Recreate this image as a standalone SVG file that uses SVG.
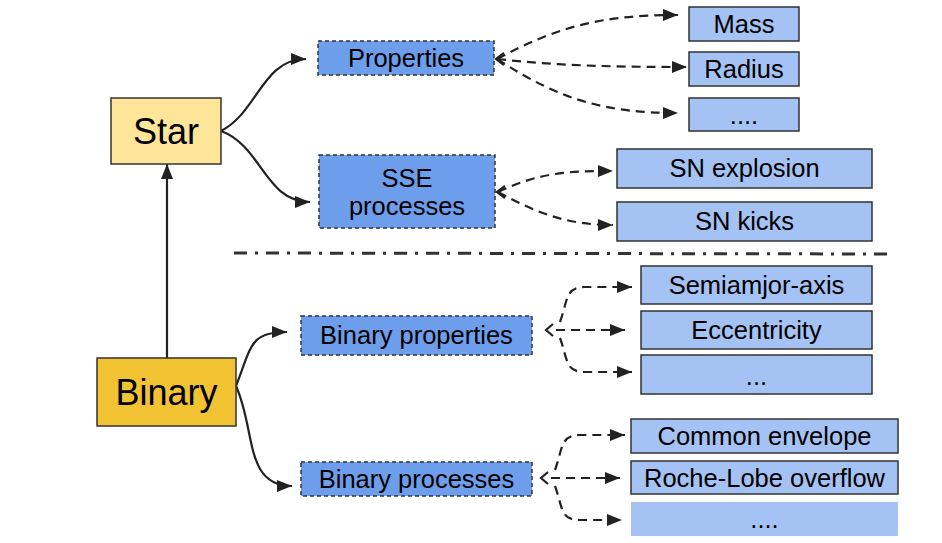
<svg xmlns="http://www.w3.org/2000/svg" width="942" height="543" viewBox="0 0 942 543">
<style>
text{font-family:"Liberation Sans",Arial,sans-serif;fill:#000;text-anchor:middle}
.big{font-size:36px}
.t{font-size:25.5px}
.l2{fill:#6d9eeb;stroke:#333;stroke-width:1.5;stroke-dasharray:4 3}
.l3{fill:#a4c2f4;stroke:#333;stroke-width:1.5}
.l3n{fill:#a4c2f4}
.c{fill:none;stroke:#222;stroke-width:2.2}
.d{fill:none;stroke:#222;stroke-width:2.2;stroke-dasharray:9 6}
.chev{fill:none;stroke:#222;stroke-width:2.2}
</style>
<defs>
<marker id="ah" viewBox="0 0 15 12" refX="15" refY="6" markerWidth="15" markerHeight="12" markerUnits="userSpaceOnUse" orient="auto">
<path d="M0,0 L15,6 L0,12 Z" fill="#222"/>
</marker>
</defs>
<rect width="942" height="543" fill="#fff"/>
<g id="connectors">
<path class="c" d="M167,358 L167,164" marker-end="url(#ah)"/>
<path class="c" d="M221,131 C258,112 262,59 306,59" marker-end="url(#ah)"/>
<path class="c" d="M221,131 C262,146 265,202 310,202" marker-end="url(#ah)"/>
<path class="c" d="M236,386 C252,345 250,332 287,332" marker-end="url(#ah)"/>
<path class="c" d="M236,386 C256,430 244,486 292,486" marker-end="url(#ah)"/>
<path class="d" d="M497,59 C560,25 605,15 678,15" marker-end="url(#ah)"/>
<path class="d" d="M497,59 C560,66 620,67 687,67" marker-end="url(#ah)"/>
<path class="d" d="M497,59 C560,100 605,113 678,113" marker-end="url(#ah)"/>
<path class="chev" d="M504,53 L496,59 L504,65"/>
<path class="d" d="M498,192 C540,172 570,171 613,171" marker-end="url(#ah)"/>
<path class="d" d="M498,192 C540,215 570,225 613,225" marker-end="url(#ah)"/>
<path class="chev" d="M505,186 L497,192 L505,198"/>
<path class="d" d="M560,322 C568,300 565,287 585,287 L632,287" marker-end="url(#ah)"/>
<path class="d" d="M556,330 L625,330" marker-end="url(#ah)"/>
<path class="d" d="M560,338 C568,360 565,372 585,372 L632,372" marker-end="url(#ah)"/>
<path class="chev" d="M553,324 L546,330 L553,336"/>
<path class="d" d="M555,470 C563,448 560,435 580,435 L625,435" marker-end="url(#ah)"/>
<path class="d" d="M551,478 L620,478" marker-end="url(#ah)"/>
<path class="d" d="M555,486 C563,508 560,520 580,520 L622,520" marker-end="url(#ah)"/>
<path class="chev" d="M548,472 L541,478 L548,484"/>
<path d="M234,253 L893,254" fill="none" stroke="#333" stroke-width="3" stroke-dasharray="13 8 3 8"/>
</g>
<g id="star"><rect x="111" y="98" width="110" height="66" fill="#ffe599" stroke="#333" stroke-width="1.5"/><text class="big" x="166" y="144">Star</text></g>
<g id="binary"><rect x="97" y="358" width="139" height="68" fill="#f1c232" stroke="#333" stroke-width="1.5"/><text class="big" x="166.5" y="405">Binary</text></g>
<g id="properties"><rect class="l2" x="318" y="41" width="176" height="34"/><text class="t" x="406" y="67">Properties</text></g>
<g id="sse"><rect class="l2" x="319" y="155" width="176" height="73"/><text class="t" x="407" y="187">SSE</text><text class="t" x="407" y="215">processes</text></g>
<g id="binprops"><rect class="l2" x="301" y="316" width="231" height="39"/><text class="t" x="416.5" y="344">Binary properties</text></g>
<g id="binproc"><rect class="l2" x="301" y="462" width="231" height="34"/><text class="t" x="416.5" y="488">Binary processes</text></g>
<g id="mass"><rect class="l3" x="689" y="7" width="110" height="34"/><text class="t" x="744" y="33">Mass</text></g>
<g id="radius"><rect class="l3" x="689" y="52" width="110" height="34"/><text class="t" x="744" y="78">Radius</text></g>
<g id="more1"><rect class="l3" x="689" y="98" width="110" height="33"/><text class="t" x="744" y="124">....</text></g>
<g id="snexp"><rect class="l3" x="617" y="149" width="255" height="39"/><text class="t" x="744.5" y="177">SN explosion</text></g>
<g id="snkick"><rect class="l3" x="617" y="202" width="255" height="39"/><text class="t" x="744.5" y="230">SN kicks</text></g>
<g id="semi"><rect class="l3" x="641" y="266" width="231" height="38"/><text class="t" x="756.5" y="294">Semiamjor-axis</text></g>
<g id="ecc"><rect class="l3" x="641" y="311" width="231" height="38"/><text class="t" x="756.5" y="339">Eccentricity</text></g>
<g id="more2"><rect class="l3" x="641" y="355" width="231" height="39"/><text class="t" x="756.5" y="385">...</text></g>
<g id="ce"><rect class="l3" x="631" y="419" width="267" height="34"/><text class="t" x="764.5" y="445">Common envelope</text></g>
<g id="rlo"><rect class="l3" x="631" y="461" width="267" height="33"/><text class="t" x="764.5" y="487">Roche-Lobe overflow</text></g>
<g id="more3"><rect class="l3n" x="631" y="502" width="267" height="34"/><text class="t" x="764.5" y="528">....</text></g>
</svg>
